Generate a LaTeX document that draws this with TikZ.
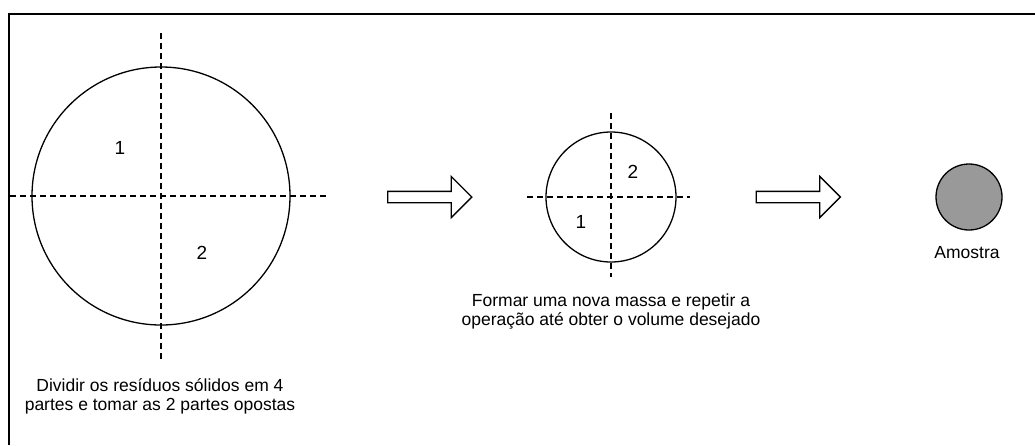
\documentclass[tikz,border=0pt]{standalone}
\usepackage{fontspec}
\setmainfont{Liberation Sans}
\usepackage{tikz}
\usetikzlibrary{calc}
\usetikzlibrary{shapes.arrows}
\definecolor{samplegray}{RGB}{153,153,153}
\tikzset{
    disc/.style={draw, circle, line width=1.3pt, inner sep=0pt},
    cut/.style={dash pattern=on 6pt off 4pt, line width=1.5pt},
    num/.style={font=\fontsize{19}{19}\selectfont},
    caption/.style={align=center, font=\fontsize{17.5}{19}\selectfont},
    flow/.style={draw, single arrow, line width=1.3pt, inner sep=0pt, inner ysep=5pt,
        minimum height=84pt, minimum width=41pt, single arrow head extend=15pt}
}
\begin{document}
\begin{tikzpicture}[x=1pt, y=-1pt]
    \useasboundingbox (0,0) rectangle (1035,445);
    \draw[line width=2pt] (1035,14) -- (9,14) -- (9,445);

    % pile of solid residues, cut in four
    \node[disc, minimum size=258pt] (pile) at (161,196) {};
    \draw[cut] ($(pile.center)+(0,-163)$) -- ($(pile.center)+(0,166)$)
        ($(pile.center)+(-151,0)$) -- ($(pile.center)+(166,0)$);
    \node[num] (pileA) at (120,148) {1};
    \node[num] (pileB) at (202,253) {2};
    \node[caption] (pileText) at (160,396) {Dividir os resíduos sólidos em 4\\partes e tomar as 2 partes opostas};

    \node[flow] (go1) at (427,197) {};

    % new mass
    \node[disc, minimum size=130pt] (mass) at (611,197) {};
    \draw[cut] ($(mass.center)+(0,-84)$) -- ($(mass.center)+(0,80)$)
        ($(mass.center)+(-84,0)$) -- ($(mass.center)+(79,0)$);
    \node[num] (massB) at (633,172) {2};
    \node[num] (massA) at (581,222) {1};
    \node[caption] (massText) at (611,312) {Formar uma nova massa e repetir a\\operação até obter o volume desejado};

    \node[flow] (go2) at (795.5,197) {};

    % final sample
    \node[disc, fill=samplegray, minimum size=66pt] (sample) at (969,197) {};
    \node[caption] (sampleText) at (967,253) {Amostra};
\end{tikzpicture}
\end{document}
